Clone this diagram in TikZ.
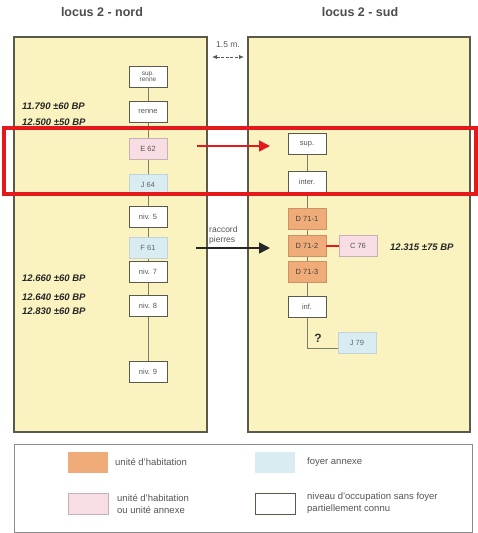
\documentclass[tikz,border=0pt]{standalone}
\usepackage{fontspec}
\setmainfont{Liberation Sans}
\usetikzlibrary{arrows.meta}
\definecolor{panelY}{HTML}{FAF3C0}
\definecolor{boxO}{HTML}{F0AC78}
\definecolor{boxP}{HTML}{F8DEE4}
\definecolor{boxB}{HTML}{D8ECF2}
\definecolor{redL}{HTML}{E3191B}
\definecolor{edgeG}{HTML}{5A5A4A}
\definecolor{txtG}{HTML}{555555}
\begin{document}
\begin{tikzpicture}[x=1pt,y=-1pt,
  panel/.style={draw=edgeG,line width=1.3pt,fill=panelY},
  lvl/.style={draw=edgeG,line width=0.9pt,fill=white,minimum width=38pt,minimum height=21pt,inner sep=0pt,font=\fontsize{7.5}{7.5}\selectfont,text=txtG,align=center},
  orng/.style={lvl,draw=boxO!85!black,fill=boxO,text=black!75},
  pnk/.style={lvl,draw=boxP!80!black,fill=boxP},
  blu/.style={lvl,draw=boxB!90!black,fill=boxB,text=black!60},
  link/.style={draw=edgeG!80,line width=0.9pt},
  date/.style={font=\fontsize{9.5}{10}\selectfont\bfseries\itshape,text=black!85,anchor=west,inner sep=0pt},
  ttl/.style={font=\fontsize{12.5}{14}\selectfont\bfseries,text=black!70},
  leg/.style={font=\fontsize{9.5}{12.5}\selectfont,text=txtG,anchor=west,align=left,inner sep=0pt},
  swatch/.style={minimum width=40pt,minimum height=21pt,inner sep=0pt,line width=0.9pt}]
\useasboundingbox (0,0) rectangle (478,533);
\fill[white] (0,0) rectangle (478,533);
% titles
\node[ttl] (tN) at (102,12) {locus 2 - nord};
\node[ttl] (tS) at (360,12) {locus 2 - sud};
% panels
\draw[panel] (14,37) rectangle (207,432);
\draw[panel] (248,37) rectangle (470,432);
% distance
\node[font=\fontsize{8.5}{9}\selectfont,text=txtG] (dist) at (228,45) {1.5 m.};
\coordinate (dA) at (212,57);
\coordinate (dB) at (244,57);
\draw[{Latex[length=5pt,width=4.5pt]}-{Latex[length=5pt,width=4.5pt]},draw=black!65,line width=0.9pt,dash pattern=on 3pt off 1.5pt] (dA) -- (dB);
% left chain
\node[lvl,font=\fontsize{6.5}{6.5}\selectfont] (n1) at (148,77) {sup.\\renne};
\node[lvl] (n2) at (148,112) {renne};
\node[pnk] (n3) at (148,149) {E 62};
\node[blu] (n4) at (148,185) {J 64};
\node[lvl] (n5) at (148,217) {niv. 5};
\node[blu] (n6) at (148,248) {F 61};
\node[lvl] (n7) at (148,272) {niv. 7};
\node[lvl] (n8) at (148,306) {niv. 8};
\node[lvl] (n9) at (148,372) {niv. 9};
\draw[link] (n1)--(n2) (n2)--(n3) (n3)--(n4) (n4)--(n5) (n5)--(n6) (n6)--(n7) (n7)--(n8) (n8)--(n9);
% dates left
\node[date] (d1) at (22,106) {11.790 ±60 BP};
\node[date] (d2) at (22,122) {12.500 ±50 BP};
\node[date] (d3) at (22,278) {12.660 ±60 BP};
\node[date] (d4) at (22,297) {12.640 ±60 BP};
\node[date] (d5) at (22,311) {12.830 ±60 BP};
% right chain
\node[lvl] (s1) at (307,144) {sup.};
\node[lvl] (s2) at (307,182) {inter.};
\node[orng] (s3) at (307,219) {D 71-1};
\node[orng] (s4) at (307,246) {D 71-2};
\node[orng] (s5) at (307,272) {D 71-3};
\node[lvl] (s6) at (307,307) {inf.};
\node[pnk] (c76) at (358,246) {C 76};
\node[blu] (j79) at (357,343) {J 79};
\draw[link] (s1)--(s2) (s2)--(s3) (s3)--(s4) (s4)--(s5) (s5)--(s6);
\draw[redL,line width=1.3pt] (s4.east) -- (c76.west);
\coordinate (q) at (s6.south |- 0,348);
\draw[link] (s6.south) -- (q) -- (q -| j79.west);
\node[font=\fontsize{12}{12}\selectfont\bfseries,text=black!80] (qm) at (318,338) {?};
\node[date] (d6) at (390,247) {12.315 ±75 BP};
% red frame and arrow
\draw[redL,line width=3.4pt] (4,128) rectangle (476,194);
\coordinate (rA) at (197,146);
\coordinate (rB) at (270,146);
\draw[redL,line width=1.6pt,-{Triangle[length=11pt,width=11pt]}] (rA) -- (rB);
% black arrow
\coordinate (bA) at (196,248);
\coordinate (bB) at (270,248);
\draw[black!85,line width=1.6pt,-{Triangle[length=11pt,width=11pt]}] (bA) -- (bB);
\node[font=\fontsize{8.5}{9.5}\selectfont,text=txtG,align=left,anchor=south west,inner sep=0pt] (rac) at (209,244) {raccord\\pierres};
% legend
\draw[draw=black!45,line width=0.9pt,fill=white] (14,444) rectangle (472,532);
\node[swatch,fill=boxO] (lo) at (88,462) {};
\node[leg] (llo) at (115,462) {unité d'habitation};
\node[swatch,fill=boxB] (lb) at (275,462) {};
\node[leg] (llb) at (307,462) {foyer annexe};
\node[swatch,fill=boxP,draw=boxP!80!black] (lp) at (88,504) {};
\node[leg] (llp) at (117,504) {unité d'habitation\\ou unité annexe};
\node[swatch,fill=white,draw=edgeG] (lw) at (275,504) {};
\node[leg] (llw) at (307,503) {niveau d'occupation sans foyer\\partiellement connu};
\end{tikzpicture}
\end{document}
